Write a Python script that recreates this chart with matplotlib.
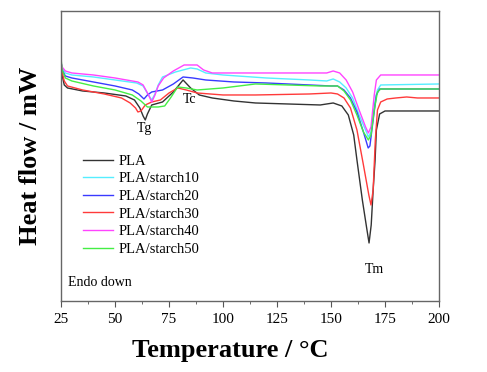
import matplotlib
matplotlib.use('Agg')
import matplotlib.pyplot as plt
from matplotlib.ticker import MultipleLocator

plt.rcParams['font.family'] = ['Liberation Serif', 'DejaVu Serif']

# temperature (°C) / heat flow (mW, arbitrary offset)
t_pla = [25, 25.5, 26.5, 28, 35, 45, 55, 59, 61.5, 63, 64, 65, 67, 72, 77, 81.5, 85, 89, 95, 105,
         115, 130, 145, 151, 155, 158, 160.5, 162, 164.5, 166.5, 167.6, 168.6, 169.5, 170.4, 171,
         172.5, 175, 200]
hf_pla = [12.05, 11.3, 10.8, 10.65, 10.5, 10.4, 10.25, 10.05, 9.65, 9.25, 9.05, 9.35, 9.8, 9.95,
          10.45, 11.05, 10.65, 10.3, 10.15, 10.0, 9.9, 9.85, 9.8, 9.9, 9.75, 9.3, 8.3, 7.05, 5.05,
          3.65, 2.9, 3.8, 5.55, 7.05, 8.55, 9.35, 9.5, 9.5]

t_s10 = [25, 25.5, 27, 30, 40, 50, 60, 63, 65.5, 67, 68.5, 70, 72, 78, 85, 88, 92, 100, 120, 140,
         148, 151, 154, 157, 160, 163, 166, 167.3, 168.5, 170, 171.5, 173, 200]
hf_s10 = [11.95, 11.65, 11.4, 11.3, 11.2, 11.05, 10.9, 10.75, 10.3, 10.05, 10.35, 10.8, 11.2, 11.45,
          11.65, 11.6, 11.4, 11.3, 11.15, 11.05, 11.0, 11.1, 10.95, 10.65, 10.15, 9.3, 8.55, 8.2,
          8.45, 9.8, 10.55, 10.8, 10.85]

t_s20 = [25, 25.5, 27, 30, 40, 50, 58, 61, 63.4, 65, 67, 72, 77, 81.5, 86, 92, 105, 120, 140, 150,
         153, 156, 159, 162, 165, 167.2, 168, 169.5, 171, 172.5, 200]
hf_s20 = [11.95, 11.55, 11.25, 11.15, 10.95, 10.75, 10.55, 10.35, 10.1, 10.3, 10.45, 10.55, 10.85,
          11.2, 11.15, 11.05, 10.95, 10.9, 10.8, 10.75, 10.75, 10.55, 10.15, 9.45, 8.45, 7.65,
          7.75, 9.05, 10.3, 10.6, 10.6]

t_s30 = [25, 25.5, 26.5, 28, 35, 45, 53, 57, 59.5, 60.6, 62, 64, 67, 71, 75, 79, 83, 88, 100, 115,
         140, 150, 153, 156, 159, 162, 165, 167.5, 168.5, 169.5, 170.5, 171.5, 173, 176, 180, 185,
         190, 200]
hf_s30 = [11.95, 11.45, 11.0, 10.75, 10.55, 10.35, 10.15, 9.9, 9.65, 9.45, 9.5, 9.8, 9.95, 10.05,
          10.4, 10.65, 10.55, 10.4, 10.3, 10.3, 10.35, 10.4, 10.35, 10.15, 9.65, 8.55, 6.8, 5.3,
          4.8, 5.55, 8.05, 9.55, 9.95, 10.1, 10.15, 10.2, 10.15, 10.15]

t_s40 = [25, 25.5, 27, 30, 40, 50, 60.6, 63, 65.5, 67, 68.5, 70, 72.5, 77, 82, 88, 91, 95, 110,
         140, 148, 151, 154, 157, 160, 163, 166, 167.3, 168.5, 170, 171, 173, 200]
hf_s40 = [11.95, 11.7, 11.5, 11.4, 11.3, 11.15, 10.95, 10.8, 10.3, 9.95, 10.3, 10.75, 11.15, 11.5,
          11.8, 11.8, 11.55, 11.4, 11.4, 11.4, 11.4, 11.5, 11.4, 11.05, 10.45, 9.55, 8.7, 8.4,
          8.7, 10.3, 11.05, 11.3, 11.3]

t_s50 = [25, 25.5, 27, 30, 40, 50, 58, 62, 65, 70, 73, 76, 79, 83, 88, 100, 115, 130, 145, 150,
         153, 156, 159, 162, 165, 167.3, 168.5, 170, 171.5, 173, 200]
hf_s50 = [12.15, 11.55, 11.15, 11.0, 10.75, 10.55, 10.3, 10.0, 9.7, 9.7, 9.75, 10.2, 10.7, 10.65,
          10.55, 10.65, 10.85, 10.8, 10.75, 10.75, 10.75, 10.5, 10.05, 9.3, 8.45, 8.05, 8.3, 9.55,
          10.45, 10.6, 10.6]

labels = ['PLA', 'PLA/starch10', 'PLA/starch20', 'PLA/starch30', 'PLA/starch40', 'PLA/starch50']
colors = ['#333333', '#55eeff', '#3a3aff', '#ff3a3a', '#ff44ff', '#44ee44']

fig = plt.figure(figsize=(4.87, 3.72), dpi=100)
ax = fig.add_axes([0.1253, 0.1909, 0.7762, 0.7796])

series = [(t_pla, hf_pla), (t_s10, hf_s10), (t_s20, hf_s20),
          (t_s30, hf_s30), (t_s40, hf_s40), (t_s50, hf_s50)]
for (t, hf), lab, c in zip(series, labels, colors):
    ax.plot(t, hf, color=c, lw=1.0, label=lab)

ax.set_xlim(25, 200)
ax.set_ylim(0, 14.5)
ax.xaxis.set_major_locator(MultipleLocator(25))
ax.xaxis.set_minor_locator(MultipleLocator(12.5))
ax.tick_params(axis='x', which='major', direction='out', length=4, labelsize=11,
               color='#555555', pad=5)
ax.tick_params(axis='x', which='minor', direction='out', length=2, color='#555555')
ax.set_yticks([])
for s in ax.spines.values():
    s.set_color('#666666')
    s.set_linewidth(1.0)

ax.set_xlabel('Temperature / °C', fontsize=19, fontweight='bold', labelpad=10)
ax.xaxis.set_label_coords(0.447, -0.13)
ax.set_ylabel('Heat flow / mW', fontsize=19, fontweight='bold', labelpad=14)

ax.text(63.5, 8.6, 'Tg', fontsize=10, ha='center', va='center')
ax.text(84.5, 10.05, 'Tc', fontsize=10, ha='center', va='center')
ax.text(170, 1.55, 'Tm', fontsize=10, ha='center', va='center')
ax.text(28.2, 0.9, 'Endo down', fontsize=10, ha='left', va='center')

ax.legend(loc='upper left', bbox_to_anchor=(0.04, 0.53), frameon=False, fontsize=10.5,
          handlelength=2.0, labelspacing=0.3, handletextpad=0.4, borderpad=0)

fig.savefig('out.png', dpi=100)
